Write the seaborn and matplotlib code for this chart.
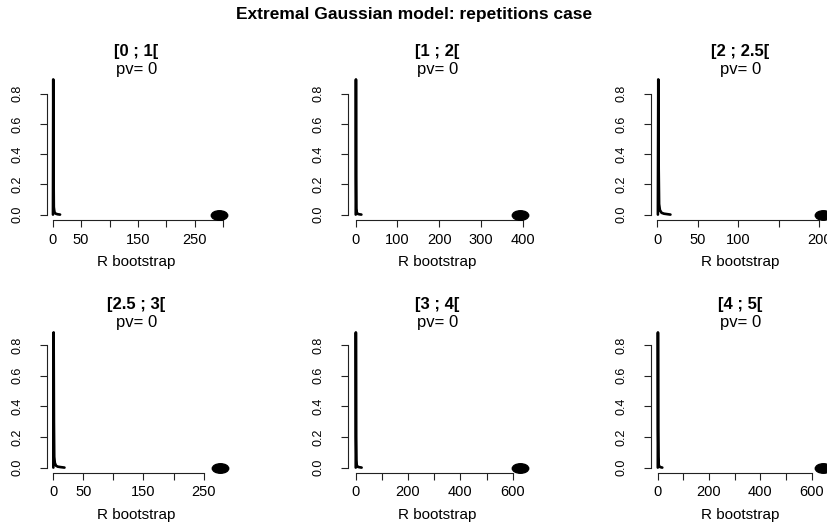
#!/usr/bin/env python3

import matplotlib
matplotlib.use("Agg")
import pandas as pd
import matplotlib.pyplot as plt
import seaborn as sns
from matplotlib.path import Path
from matplotlib.transforms import Affine2D

TITLE = "Extremal Gaussian model: repetitions case"

intervals = ["[0 ; 1[", "[1 ; 2[", "[2 ; 2.5[", "[2.5 ; 3[", "[3 ; 4[", "[4 ; 5["]
p_values = [0, 0, 0, 0, 0, 0]
r_observed = [293, 394, 204, 277, 628, 642]

# bootstrap density of R for each interval (spike near 1, short tail)
dens_x = [
    [0.5, 1, 1.5, 2, 3, 4, 6, 9, 13],
    [0.5, 1, 1.5, 2, 3, 4, 6, 9, 14],
    [0.5, 1, 1.5, 2, 3, 5, 8, 12, 16],
    [0.5, 1, 1.5, 2, 3, 5, 8, 13, 19],
    [0.5, 1, 2, 3, 4, 6, 10, 16, 23],
    [0.5, 1, 2, 3, 4, 6, 9, 13, 18],
]
dens_y = [
    [0, 0.894, 0.30, 0.05, 0.02, 0.01, 0.005, 0.002, 0],
    [0, 0.894, 0.25, 0.04, 0.015, 0.008, 0.004, 0.002, 0],
    [0, 0.894, 0.30, 0.07, 0.03, 0.012, 0.006, 0.003, 0],
    [0, 0.883, 0.30, 0.07, 0.03, 0.012, 0.006, 0.003, 0],
    [0, 0.883, 0.20, 0.05, 0.02, 0.008, 0.004, 0.002, 0],
    [0, 0.883, 0.25, 0.07, 0.02, 0.008, 0.004, 0.002, 0],
]

x_ticks = [
    [0, 50, 100, 150, 200, 250, 300],
    [0, 100, 200, 300, 400],
    [0, 50, 100, 150, 200],
    [0, 50, 100, 150, 200, 250],
    [0, 100, 200, 300, 400, 500, 600],
    [0, 100, 200, 300, 400, 500, 600],
]
x_tick_labels = [
    ["0", "50", "", "150", "", "250", ""],
    ["0", "100", "200", "300", "400"],
    ["0", "50", "100", "", "200"],
    ["0", "50", "", "150", "", "250"],
    ["0", "", "200", "", "400", "", "600"],
    ["0", "", "200", "", "400", "", "600"],
]
y_ticks = [0.0, 0.2, 0.4, 0.6, 0.8]
y_tick_labels = ["0.0", "0.2", "0.4", "0.6", "0.8"]

# figure size in pixels and panel placement (R-style plot regions)
W, H = 828, 522
COL_LEFT = [47, 348, 651]
ROW_TOP = [74, 327]
PANEL_W, PANEL_H = 179, 146
X_LIMITS = [(-10, 305), (-18, 410), (-8, 213), (-10, 287), (-29, 654), (-26, 671)]


def ellipse_marker():
    return Path.unit_circle().transformed(Affine2D().scale(1.0, 0.58))


def draw_panel(fig, i):
    row, col = divmod(i, 3)
    left = COL_LEFT[col] / W
    bottom = (H - ROW_TOP[row] - PANEL_H) / H
    ax = fig.add_axes([left, bottom, PANEL_W / W, PANEL_H / H])

    df = pd.DataFrame({"R": dens_x[i], "density": dens_y[i]})
    sns.lineplot(data=df, x="R", y="density", ax=ax, color="black",
                 lw=1.9, sort=False, estimator=None)
    ax.scatter([r_observed[i]], [0], marker=ellipse_marker(), s=140,
               color="black", clip_on=False, zorder=3)

    ax.set_xlim(*X_LIMITS[i])
    ax.margins(y=0.04)
    ax.set_xticks(x_ticks[i])
    ax.set_xticklabels(x_tick_labels[i], fontsize=10.5)
    ax.set_yticks(y_ticks)
    ax.set_yticklabels(y_tick_labels, fontsize=9, rotation=90, va="center")

    for side in ("top", "right"):
        ax.spines[side].set_visible(False)
    ax.spines["left"].set_bounds(y_ticks[0], y_ticks[-1])
    ax.spines["bottom"].set_bounds(x_ticks[i][0], x_ticks[i][-1])
    for side in ("left", "bottom"):
        ax.spines[side].set_linewidth(0.8)
        ax.spines[side].set_color("#222222")
    ax.tick_params(axis="both", direction="out", length=5, width=0.8,
                   color="#222222", labelcolor="black", left=True, bottom=True)
    ax.tick_params(axis="y", pad=12)
    ax.tick_params(axis="x", pad=4)

    ax.set_xlabel("R bootstrap", fontsize=11, labelpad=6, color="black")
    ax.set_ylabel("")
    ax.text(0.5, 1.153, intervals[i], transform=ax.transAxes, ha="center",
            va="center", fontsize=12, fontweight="bold", color="black")
    ax.text(0.5, 1.034, f"pv= {p_values[i]}", transform=ax.transAxes,
            ha="center", va="center", fontsize=12, color="black")
    ax.set_facecolor("white")


def main():
    sns.set_theme(style="white")
    plt.rcParams["font.family"] = ["Liberation Sans", "DejaVu Sans"]
    plt.rcParams["text.color"] = "black"
    fig = plt.figure(figsize=(W / 100, H / 100), dpi=100)
    fig.patch.set_facecolor("white")
    for i in range(len(intervals)):
        draw_panel(fig, i)
    fig.text(0.5, 1 - 14 / H, TITLE, ha="center", va="center",
             fontsize=12.5, fontweight="bold", color="black")
    fig.savefig("out.png", dpi=100)


if __name__ == "__main__":
    main()
